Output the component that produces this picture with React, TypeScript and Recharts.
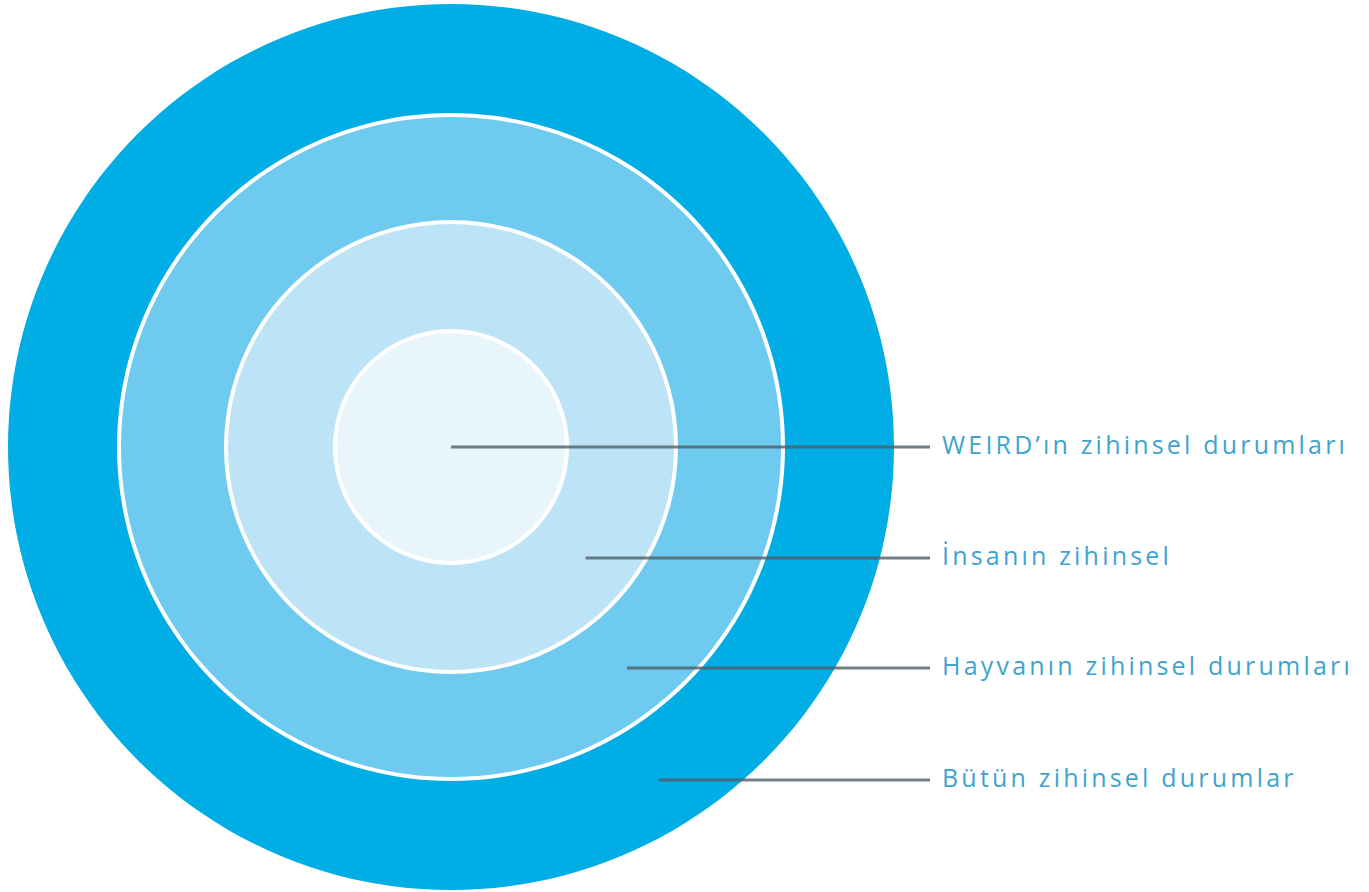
import React from 'react';
import { PieChart, Pie, Cell } from 'recharts';

// rings from outermost to innermost
const ringLabels = [
  'Bütün zihinsel durumlar',
  'Hayvanın zihinsel durumları',
  'İnsanın zihinsel',
  'WEIRD’ın zihinsel durumları',
];
const ringValues = [1, 1, 1, 1];
const ringColors = ['#00ADE5', '#6FCAEF', '#BCE3F6', '#E8F6FC'];

// radii in px [inner, outer]; the gaps between rings are the white borders
const ringRadii = [
  [334, 443],
  [227, 330],
  [118, 223],
  [0, 114],
];
// y offset of each leader line from the centre
const leaderOffsets = [333, 221, 111, 0];

const CX = 451;
const CY = 447;
const LINE_END_X = 930;
const TEXT_X = 942;

function makeLabel(i: number) {
  return (props: any) => {
    const { cx, cy, innerRadius, outerRadius } = props;
    const dy = leaderOffsets[i];
    const rMid = innerRadius === 0 ? 0 : (innerRadius + outerRadius) / 2 + 4;
    const dx = Math.sqrt(Math.max(rMid * rMid - dy * dy, 0));
    const y = cy + dy;
    return (
      <g key={`lbl-${i}`}>
        <line x1={cx + dx} y1={y} x2={LINE_END_X} y2={y} stroke="#4f5e67" strokeOpacity={0.8} strokeWidth={3} />
        <text
          x={TEXT_X}
          y={y}
          dy={7}
          fill="#3FA3D0"
          fontFamily="'Open Sans', sans-serif"
          fontSize={25}
          letterSpacing={3.2}
        >
          {ringLabels[i]}
        </text>
      </g>
    );
  };
}

export default function App() {
  return (
    <div style={{ width: 1369, height: 892, background: '#fff' }}>
      <style>{'body{margin:0}'}</style>
      <PieChart width={1369} height={892} margin={{ top: 0, right: 0, bottom: 0, left: 0 }}>
        {ringValues.map((v, i) => (
          <Pie
            key={ringLabels[i]}
            data={[{ name: ringLabels[i], value: v }]}
            dataKey="value"
            cx={CX}
            cy={CY}
            innerRadius={ringRadii[i][0]}
            outerRadius={ringRadii[i][1]}
            startAngle={90}
            endAngle={-270}
            stroke="none"
            label={makeLabel(i)}
            labelLine={false}
            isAnimationActive={false}
          >
            <Cell fill={ringColors[i]} />
          </Pie>
        ))}
      </PieChart>
    </div>
  );
}
